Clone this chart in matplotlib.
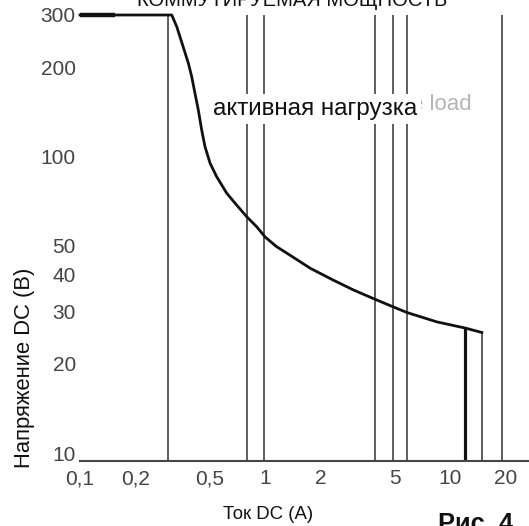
import numpy as np
import matplotlib
matplotlib.use('Agg')
import matplotlib.pyplot as plt

plt.rcParams['font.family'] = ['Liberation Sans', 'DejaVu Sans']

# ---- data ----
# max switching curve (resistive load), current in A, voltage in V
curve_a = [0.1, 0.313, 0.333, 0.361, 0.385, 0.401, 0.418, 0.435, 0.454,
           0.473, 0.504, 0.547, 0.620, 0.701, 0.794, 0.899, 1.0, 1.15,
           1.36, 1.75, 2.33, 2.99, 3.92, 4.92, 5.81, 8.43, 12.0, 14.8]
curve_v = [300, 300, 274, 234, 206, 186, 163, 144, 123,
           108, 94.9, 85.5, 75.2, 68.6, 62.7, 58.0, 53.5, 49.7,
           46.5, 42.0, 38.3, 35.5, 33.0, 31.1, 29.8, 27.7, 26.4, 25.5]

# full-height reference lines (A)
grid_a = [0.30, 0.794, 0.99, 3.92, 4.92, 5.81, 19.1]
# lines that start at the curve: 12 A (thick) and ~15 A
limit_a = [12.0, 14.8]

x_ticks = [0.1, 0.2, 0.5, 1, 2, 5, 10, 20]
x_labels = ['0,1', '0,2', '0,5', '1', '2', '5', '10', '20']
y_ticks = [10, 20, 30, 40, 50, 100, 200, 300]
y_labels = ['10', '20', '30', '40', '50', '100', '200', '300']

W, H = 529, 526
fig = plt.figure(figsize=(W / 100, H / 100), dpi=100)
ax = fig.add_axes([80 / W, 65 / H, 449 / W, 446 / H])
ax.set_xscale('log')
ax.set_yscale('log')
ax.set_xlim(0.1, 26.6)
ax.set_ylim(9.4, 300)

line_col = '#505050'
ax.vlines(grid_a, 9.4, 300, color=line_col, lw=1.3, zorder=1)

# curve value at the two limit lines
top_v = np.exp(np.interp(np.log(limit_a), np.log(curve_a), np.log(curve_v)))
ax.vlines(limit_a[0], 9.4, top_v[0], color='#111111', lw=2.3, zorder=2)
ax.vlines(limit_a[1], 9.4, top_v[1], color=line_col, lw=1.3, zorder=2)

ax.plot(curve_a, curve_v, color='#111111', lw=2.0, clip_on=False,
        solid_joinstyle='round', zorder=3)
ax.plot(curve_a[:1] + [0.154], curve_v[:2], color='#111111', lw=3.2,
        clip_on=False, solid_capstyle='butt', zorder=3)

for s in ['left', 'right', 'top']:
    ax.spines[s].set_visible(False)
ax.spines['bottom'].set_color('#454545')
ax.spines['bottom'].set_linewidth(1.5)

ax.minorticks_off()
ax.set_xticks(x_ticks)
ax.set_xticklabels(x_labels)
ax.set_yticks(y_ticks)
ax.set_yticklabels(y_labels)
ax.tick_params(axis='x', length=0, pad=6, labelsize=15, labelcolor='#444444')
ax.tick_params(axis='y', length=0, pad=3, labelsize=15, labelcolor='#444444')

# texts
fig.text(292 / W, 1 - 6.5 / H, 'КОММУТИРУЕМАЯ МОЩНОСТЬ', ha='center',
         va='baseline', fontsize=14.5, color='#111111')
fig.text(472 / W, 1 - 105 / H, 'e load', ha='right', va='center',
         fontsize=16, color='#b5b5b5', zorder=3)
fig.text(315 / W, 1 - 109 / H, 'активная нагрузка', ha='center', va='center',
         fontsize=17.5, color='#111111', zorder=4,
         bbox=dict(facecolor='white', edgecolor='none', pad=3))
fig.text(25 / W, 1 - 368 / H, 'Напряжение DC (В)', ha='center', va='center',
         rotation=90, fontsize=15.8, color='#111111')
fig.text(268 / W, 1 - 519 / H, 'Ток DC (A)', ha='center', va='baseline',
         fontsize=13.4, color='#111111')
fig.text(438 / W, 1 - 531 / H, 'Рис. 4', ha='left', va='baseline',
         fontsize=18.4, fontweight='bold', color='#111111')

fig.savefig('out.png', dpi=100)
